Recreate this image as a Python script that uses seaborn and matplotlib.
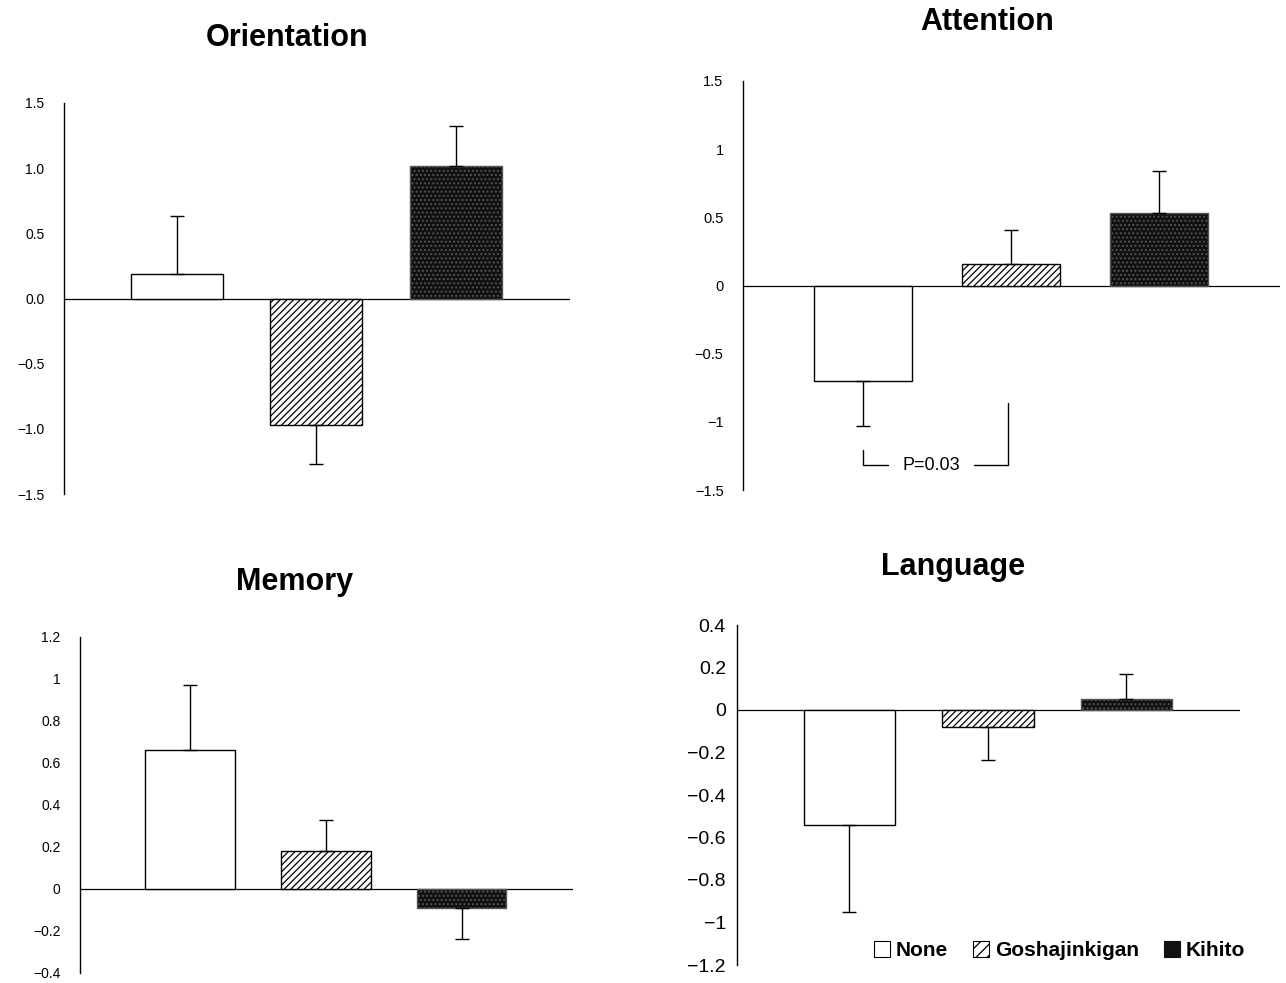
import matplotlib
matplotlib.use("Agg")
import matplotlib.pyplot as plt
from matplotlib.patches import Patch
import pandas as pd
import seaborn as sns

groups = ["None", "Goshajinkigan", "Kihito"]

orientation_mean = [0.19, -0.97, 1.02]
orientation_se = [0.44, 0.30, 0.30]
attention_mean = [-0.70, 0.16, 0.53]
attention_se = [0.33, 0.25, 0.31]
memory_mean = [0.66, 0.18, -0.09]
memory_se = [0.31, 0.15, 0.15]
language_mean = [-0.54, -0.08, 0.05]
language_se = [0.41, 0.155, 0.12]

orientation_ticks = [1.5, 1.0, 0.5, 0.0, -0.5, -1.0, -1.5]
orientation_labels = ["1.5", "1.0", "0.5", "0.0", "\u22120.5", "\u22121.0", "\u22121.5"]
attention_ticks = [1.5, 1.0, 0.5, 0.0, -0.5, -1.0, -1.5]
attention_labels = ["1.5", "1", "0.5", "0", "\u22120.5", "\u22121", "\u22121.5"]
memory_ticks = [1.2, 1.0, 0.8, 0.6, 0.4, 0.2, 0.0, -0.2, -0.4]
memory_labels = ["1.2", "1", "0.8", "0.6", "0.4", "0.2", "0", "\u22120.2", "\u22120.4"]
language_ticks = [0.4, 0.2, 0.0, -0.2, -0.4, -0.6, -0.8, -1.0, -1.2]
language_labels = ["0.4", "0.2", "0", "\u22120.2", "\u22120.4", "\u22120.6", "\u22120.8", "\u22121", "\u22121.2"]

# bar styles: face, edge, hatch
styles = {
    "None": ("white", "black", None),
    "Goshajinkigan": ("white", "black", "/////"),
    "Kihito": ("#111111", "#555555", "...."),
}

W, H = 1286, 983

# title, mean, se, ticks, labels, ylim, axes rect (px), tick size, title pos (px)
panels = [
    ("Orientation", orientation_mean, orientation_se, orientation_ticks, orientation_labels,
     (-1.5, 1.5), (64, 103, 570, 494), 10, (287, 38)),
    ("Attention", attention_mean, attention_se, attention_ticks, attention_labels,
     (-1.5, 1.5), (743, 81, 1280, 490), 10.5, (987, 22)),
    ("Memory", memory_mean, memory_se, memory_ticks, memory_labels,
     (-0.4, 1.2), (80, 637, 573, 973), 10, (295, 582)),
    ("Language", language_mean, language_se, language_ticks, language_labels,
     (-1.2, 0.4), (737, 625, 1240, 965), 14, (953, 567)),
]

sns.set_style("white")
plt.rcParams["font.family"] = ["Liberation Sans", "DejaVu Sans"]
plt.rcParams["text.color"] = "black"
plt.rcParams["hatch.linewidth"] = 0.9

fig = plt.figure(figsize=(W / 100, H / 100), dpi=100)
axes = {}

for title, mean, se, ticks, labels, ylim, (x0, y0, x1, y1), tsize, (tx, ty) in panels:
    ax = fig.add_axes([x0 / W, 1 - y1 / H, (x1 - x0) / W, (y1 - y0) / H])
    axes[title] = ax
    df = pd.DataFrame({"group": groups, "value": mean})
    sns.barplot(data=df, x="group", y="value", hue="group", order=groups, hue_order=groups,
                palette=[styles[g][0] for g in groups], width=0.66, edgecolor="black",
                linewidth=1, errorbar=None, legend=False, ax=ax, zorder=2)
    centers = {}
    for p in ax.patches:
        cx = p.get_x() + p.get_width() / 2
        g = groups[int(round(cx))]
        face, edge, hatch = styles[g]
        p.set_facecolor(face)
        p.set_edgecolor(edge)
        if hatch:
            p.set_hatch(hatch)
        centers[g] = cx
    xs = [centers[g] for g in groups]
    lower = [s if m < 0 else 0 for m, s in zip(mean, se)]
    upper = [s if m >= 0 else 0 for m, s in zip(mean, se)]
    ax.errorbar(xs, mean, yerr=[lower, upper], fmt="none", ecolor="black",
                elinewidth=1, capsize=5, capthick=1, zorder=3)
    ax.axhline(0, color="black", lw=0.9, zorder=1)
    ax.set_xlim(-0.81, 2.82)
    ax.set_ylim(*ylim)
    ax.set_yticks(ticks)
    ax.set_yticklabels(labels, fontsize=tsize, color="black")
    ax.set_xticks([])
    ax.set_xlabel("")
    ax.set_ylabel("")
    for side in ["top", "right", "bottom"]:
        ax.spines[side].set_visible(False)
    ax.spines["left"].set_color("black")
    ax.spines["left"].set_linewidth(1)
    ax.tick_params(axis="y", direction="in", length=4, width=0.8, pad=14 if tsize < 12 else 8,
                   colors="black")
    fig.text(tx / W, 1 - ty / H, title, ha="center", va="center",
             fontsize=22, fontweight="bold", color="black")

# significance bracket in Attention
ax = axes["Attention"]
ax.plot([0, 0, 0.17], [-1.21, -1.32, -1.32], color="black", lw=1)
ax.plot([0.75, 0.98, 0.98], [-1.32, -1.32, -0.86], color="black", lw=1)
ax.text(0.46, -1.32, "P=0.03", ha="center", va="center", fontsize=13, color="black")

# legend
handles = [Patch(facecolor=styles[g][0], edgecolor="black" if g != "Kihito" else "#111111",
                 hatch="///" if g == "Goshajinkigan" else None, linewidth=0.8)
           for g in groups]
fig.legend(handles, groups, loc="lower right", bbox_to_anchor=(1264 / W, 1 - 979 / H),
           ncol=3, frameon=False, handlelength=0.75, handleheight=0.75, handletextpad=0.3,
           columnspacing=1.2, prop={"size": 15, "weight": "bold"}, labelcolor="black")

fig.savefig("out.png", dpi=100)
